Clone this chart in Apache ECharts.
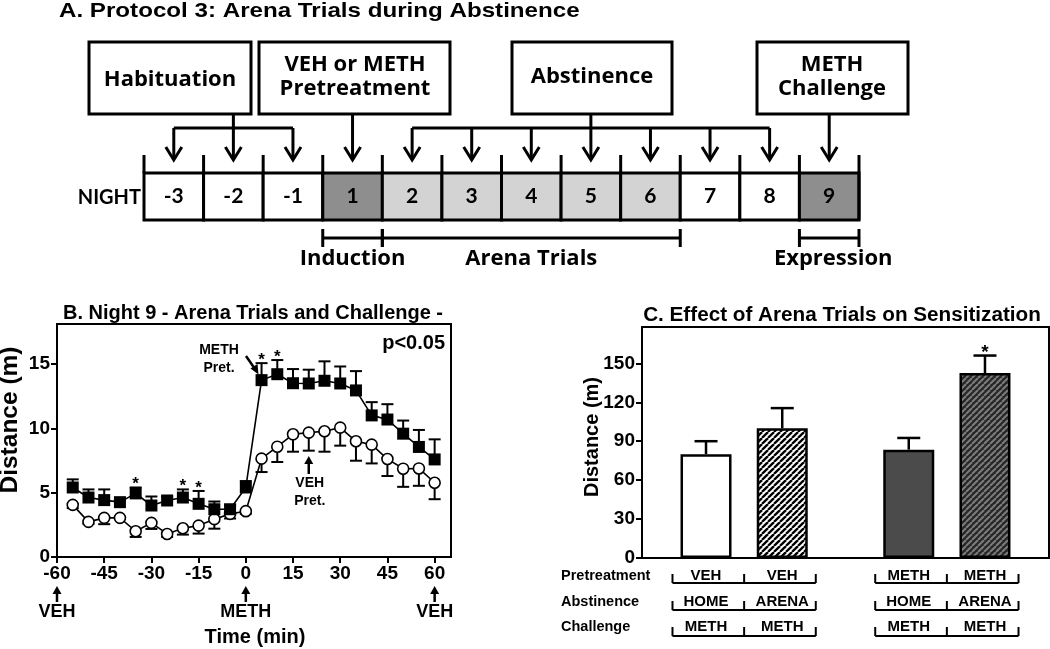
<!DOCTYPE html>
<html><head><meta charset="utf-8">
<script src="https://cdn.jsdelivr.net/npm/echarts@6/dist/echarts.min.js"></script>
<style>html,body{margin:0;padding:0;background:#fff}#c{width:1050px;height:649px}</style>
</head><body><div id="c"></div>
<script>
// ---------------- DATA ----------------
// Panel A: protocol schedule
const nights = ['-3','-2','-1','1','2','3','4','5','6','7','8','9'];
const nightPhase = ['hab','hab','hab','ind','arena','arena','arena','arena','arena','home','home','chal'];
// Panel B: Night 9 time course (min, m)
const timeMin = [-55,-50,-45,-40,-35,-30,-25,-20,-15,-10,-5,0,5,10,15,20,25,30,35,40,45,50,55,60];
const methMean = [5.4,4.62,4.42,4.26,4.94,4.0,4.39,4.62,4.13,3.71,3.71,5.4,13.74,14.2,13.5,13.48,13.69,13.48,12.94,11.0,10.68,9.58,8.55,7.58];
const methSem  = [0.63,0.63,0.83,0.15,0.46,0.7,0.3,0.63,1.0,0.6,0.3,0.5,1.32,1.1,1.1,1.07,1.51,1.32,1.5,1.03,1.19,1.02,1.32,1.56];
const vehMean  = [4.05,2.73,3.04,3.04,2.0,2.65,1.79,2.23,2.44,2.94,3.35,3.56,7.64,8.57,9.53,9.66,9.77,10.05,8.99,8.73,7.61,6.86,6.88,5.77];
const vehSem   = [0.25,0.15,0.49,0.1,0.44,0.47,0.23,0.49,0.62,0.74,0.36,0.2,1.04,1.19,1.35,1.4,1.59,1.4,1.51,1.46,1.32,1.41,1.35,1.28];
const sigTimesB = [-35,-20,-15,5,10];
const xTicksB = [-60,-45,-30,-15,0,15,30,45,60];
const yTicksB = [0,5,10,15];
// Panel C: total distance
const pretreatC   = ['VEH','VEH','METH','METH'];
const abstinenceC = ['HOME','ARENA','HOME','ARENA'];
const challengeC  = ['METH','METH','METH','METH'];
const distMeanC = [80,100,83.5,142.5];
const distSemC  = [10,15.5,9,13.5];
const sigC = [false,false,false,true];
const yTicksC = [0,30,60,90,120,150];

// ---------------- STYLE ----------------
const FB = '"Liberation Sans", Arial, sans-serif';
const FA = 'Lato, "Open Sans", sans-serif';
const FO = '"Open Sans", Lato, sans-serif';
const BLACK = '#000';

function hatch(bg, fg, p, w) {
  const c = document.createElement('canvas'); c.width = p; c.height = p;
  const g = c.getContext('2d'); g.fillStyle = bg; g.fillRect(0,0,p,p);
  g.strokeStyle = fg; g.lineWidth = w;
  for (let k=-1;k<=1;k++){ g.beginPath(); g.moveTo(k*p, p); g.lineTo(k*p+p, 0); g.stroke(); }
  return c;
}
const barFills = ['#ffffff', {image: hatch('#ffffff','#000000',6,2.3), repeat:'repeat'}, '#4b4b4b', {image: hatch('#262626','#7d7d7d',6,2), repeat:'repeat'}];
const phaseFill = {hab:'#ffffff', ind:'#8e8e8e', arena:'#d3d3d3', home:'#ffffff', chal:'#8e8e8e'};
const posC = i => 0.84 + i + (i >= 2 ? 0.66 : 0);

function T(x, y, s, size, o) {
  o = o || {};
  const st = {text:s, fontSize:size, fontWeight:o.weight||'bold', fontFamily:o.font||FB, fill:BLACK,
    align:o.align||'center', textAlign:o.align||'center', verticalAlign:'middle', textVerticalAlign:'middle'};
  return {type:'text', x:x, y:y, rotation:o.rot||0, scaleX:o.sx||1, style:st, z:10};
}
function L(x1,y1,x2,y2,w){ return {type:'line', shape:{x1,y1,x2,y2}, style:{stroke:BLACK, lineWidth:w||2}, z:10}; }
function P(pts){ return {type:'polygon', shape:{points:pts}, style:{fill:BLACK}, z:10}; }
function R(x,y,w,h,lw){ return {type:'rect', shape:{x,y,width:w,height:h}, style:{fill:'#fff', stroke:BLACK, lineWidth:lw||3}, z:10}; }

function errRender(dir, capW, lw) {
  return function(params, api) {
    const x = api.value(0), y = api.value(1), e = api.value(2);
    const p0 = api.coord([x, y]);
    const p1 = api.coord([x, y + dir*e]);
    return {type:'group', children:[
      {type:'line', shape:{x1:p0[0], y1:p0[1], x2:p1[0], y2:p1[1]}, style:{stroke:BLACK, lineWidth:lw}},
      {type:'line', shape:{x1:p1[0]-capW/2, y1:p1[1], x2:p1[0]+capW/2, y2:p1[1]}, style:{stroke:BLACK, lineWidth:lw}}
    ]};
  };
}
function starRender(size) {
  return function(params, api) {
    const p = api.coord([api.value(0), api.value(1)]);
    return {type:'text', x:p[0], y:p[1]-3, style:{text:'*', fontSize:size, fontWeight:'bold', fontFamily:FB, fill:BLACK,
      align:'center', textAlign:'center', verticalAlign:'middle', textVerticalAlign:'middle'}};
  };
}

const axisLineS = {show:true, onZero:false, lineStyle:{color:BLACK, width:2}};
const tickS = v => ({show:true, customValues:v, length:6, lineStyle:{color:BLACK, width:2}});
const labelS = (v, m) => ({customValues:v, color:BLACK, fontSize:19, fontWeight:'bold', fontFamily:FB, margin:m});

const chart = echarts.init(document.getElementById('c'), null, {renderer:'canvas', width:1050, height:649});
const option = {
  animation:false,
  backgroundColor:'#ffffff',
  grid:[
    {left:57, top:324, width:394, height:233, show:true, borderColor:BLACK, borderWidth:2, backgroundColor:'transparent'},
    {left:642, top:327, width:407, height:231, show:true, borderColor:BLACK, borderWidth:2, backgroundColor:'transparent'},
    {left:144, top:173, width:715, height:47}
  ],
  xAxis:[
    {gridIndex:0, type:'value', min:-60, max:65.2, axisLine:axisLineS, axisTick:tickS(xTicksB), axisLabel:labelS(xTicksB, 7), splitLine:{show:false}},
    {gridIndex:1, type:'value', min:0, max:5.34, axisLine:axisLineS, axisTick:{show:false}, axisLabel:{show:false}, splitLine:{show:false}},
    {gridIndex:2, type:'category', data:nights, show:false}
  ],
  yAxis:[
    {gridIndex:0, type:'value', min:0, max:18.1, axisLine:axisLineS, axisTick:tickS(yTicksB), axisLabel:labelS(yTicksB, 7), splitLine:{show:false}},
    {gridIndex:1, type:'value', min:0, max:178, axisLine:axisLineS, axisTick:tickS(yTicksC), axisLabel:labelS(yTicksC, 7), splitLine:{show:false}},
    {gridIndex:2, type:'value', min:0, max:1, show:false}
  ],
  series:[
    {type:'custom', xAxisIndex:0, yAxisIndex:0, z:2, renderItem:errRender(1, 12, 2),
      data: timeMin.map((t,i)=>[t, methMean[i], methSem[i]]), encode:{x:0, y:1}},
    {type:'custom', xAxisIndex:0, yAxisIndex:0, z:2, renderItem:errRender(-1, 12, 2),
      data: timeMin.map((t,i)=>[t, vehMean[i], vehSem[i]]), encode:{x:0, y:1}},
    {name:'METH Pret.', type:'line', xAxisIndex:0, yAxisIndex:0, z:4, symbol:'rect', symbolSize:12,
      itemStyle:{color:BLACK}, lineStyle:{color:BLACK, width:1.6},
      data: timeMin.map((t,i)=>[t, methMean[i]])},
    {name:'VEH Pret.', type:'line', xAxisIndex:0, yAxisIndex:0, z:3, symbol:'circle', symbolSize:11,
      itemStyle:{color:'#fff', borderColor:BLACK, borderWidth:1.6}, lineStyle:{color:BLACK, width:1.6},
      data: timeMin.map((t,i)=>[t, vehMean[i]])},
    {type:'custom', xAxisIndex:0, yAxisIndex:0, z:5, renderItem:starRender(17),
      data: sigTimesB.map(t=>{ const i = timeMin.indexOf(t); return [t, methMean[i]+methSem[i]]; }), encode:{x:0,y:1}},
    {type:'bar', xAxisIndex:1, yAxisIndex:1, barWidth:51, z:2,
      itemStyle:{borderColor:BLACK, borderWidth:2},
      data: distMeanC.map((v,i)=>({value:[posC(i), v], itemStyle:{color:barFills[i], borderColor:BLACK, borderWidth:2.5}}))},
    {type:'custom', xAxisIndex:1, yAxisIndex:1, z:1, renderItem:errRender(1, 23, 2.5),
      data: distMeanC.map((v,i)=>[posC(i), v, distSemC[i]]), encode:{x:0,y:1}},
    {type:'custom', xAxisIndex:1, yAxisIndex:1, z:5, renderItem:starRender(19),
      data: distMeanC.map((v,i)=>[posC(i), v+distSemC[i]]).filter((d,i)=>sigC[i]), encode:{x:0,y:1}},
    {type:'custom', xAxisIndex:2, yAxisIndex:2, z:2,
      data: nights.map((n,i)=>[i, 0]), encode:{x:0, y:1},
      renderItem:(params, api)=>{
        const i = params.dataIndex;
        const bl = api.coord([i, 0]); const tl = api.coord([i, 1]);
        const w = api.size([1, 0])[0];
        const x0 = bl[0]-w/2, y0 = tl[1], h = bl[1]-tl[1];
        const ch = [
          {type:'rect', shape:{x:x0, y:y0, width:w, height:h}, style:{fill:phaseFill[nightPhase[i]], stroke:BLACK, lineWidth:3}},
          {type:'line', shape:{x1:x0, y1:y0-18, x2:x0, y2:y0}, style:{stroke:BLACK, lineWidth:3}},
          {type:'text', x:bl[0], y:y0+h/2, style:{text:nights[i], fontSize:21, fontWeight:'bold', fontFamily:FA, fill:BLACK,
            align:'center', textAlign:'center', verticalAlign:'middle', textVerticalAlign:'middle'}}
        ];
        if (i === nights.length-1) ch.push({type:'line', shape:{x1:x0+w, y1:y0-18, x2:x0+w, y2:bl[1]}, style:{stroke:BLACK, lineWidth:3}});
        return {type:'group', children:ch};
      }}
  ]
};
chart.setOption(option);

// ---------------- ANNOTATIONS ----------------
const g = [];
// Panel A
const cx = i => chart.convertToPixel({gridIndex:2}, [i, 0])[0];
const cellW = cx(1) - cx(0);
const edgeL = i => cx(i) - cellW/2, edgeR = i => cx(i) + cellW/2;
g.push(T(59, 11, 'A. Protocol 3: Arena Trials during Abstinence', 21, {align:'left', sx:1.15}));
const boxTop = 42, boxBot = 114, barY = 128, tipY = 160;
function downArrow(x, y1, y2) {
  g.push(L(x, y1, x, y2-1, 3));
  g.push({type:'polyline', shape:{points:[[x-8, y2-13],[x, y2],[x+8, y2-13]]}, style:{stroke:BLACK, lineWidth:3, fill:null}, z:10});
}
// boxes
g.push(R(89, boxTop, 162, boxBot-boxTop));
g.push(T(170, 80, 'Habituation', 22, {font:FO}));
g.push(R(259, boxTop, 191, boxBot-boxTop));
g.push(T(355, 65, 'VEH or METH', 22, {font:FO}));
g.push(T(355, 89, 'Pretreatment', 22, {font:FO}));
g.push(R(512, boxTop, 160, boxBot-boxTop));
g.push(T(592, 77, 'Abstinence', 22, {font:FO}));
g.push(R(757, boxTop, 151, boxBot-boxTop));
g.push(T(832, 65, 'METH', 22, {font:FO}));
g.push(T(832, 89, 'Challenge', 22, {font:FO}));
// connectors
g.push(L(cx(1), boxBot, cx(1), barY, 3));
g.push(L(cx(0), barY, cx(2), barY, 3));
[0,1,2].forEach(i => downArrow(cx(i), barY, tipY));
downArrow(cx(3), boxBot, tipY);
g.push(L(cx(7), boxBot, cx(7), barY, 3));
g.push(L(cx(4), barY, cx(10), barY, 3));
[4,5,6,7,8,9,10].forEach(i => downArrow(cx(i), barY, tipY));
downArrow(cx(11), boxBot, tipY);
g.push(T(141, 198, 'NIGHT', 20, {font:FA, align:'right'}));
// brackets
const brY = 238;
function bracket(x1, x2) { g.push(L(x1, brY, x2, brY, 3)); g.push(L(x1, brY-9, x1, brY+9, 3)); g.push(L(x2, brY-9, x2, brY+9, 3)); }
bracket(edgeL(3), edgeR(3));
bracket(edgeL(4), edgeR(8));
bracket(edgeL(11), edgeR(11));
g.push(T(cx(3), 259, 'Induction', 22, {font:FO}));
g.push(T((edgeL(4)+edgeR(8))/2, 259, 'Arena Trials', 22, {font:FO}));
g.push(T(cx(11)+4, 259, 'Expression', 22, {font:FO}));

// Panel B
const bx = v => chart.convertToPixel({xAxisIndex:0}, v);
g.push(T(253, 313, 'B. Night 9 - Arena Trials and Challenge -', 20));
g.push(T(445, 343, 'p<0.05', 20, {align:'right'}));
g.push(T(10, 420, 'Distance (m)', 24.5, {rot:Math.PI/2}));
g.push(T(255, 637, 'Time (min)', 20));
function upArrow(x, yTip, yBot) {
  g.push(L(x, yTip+6, x, yBot, 2.5));
  g.push(P([[x, yTip],[x-4.5, yTip+8],[x+4.5, yTip+8]]));
}
[[-60,'VEH'],[0,'METH'],[60,'VEH']].forEach(([t, s]) => { upArrow(bx(t), 586, 602); g.push(T(bx(t), 612, s, 18)); });
g.push(T(219, 350, 'METH', 14));
g.push(T(219, 368, 'Pret.', 14));
g.push(L(246, 356, 255, 369, 2.5));
g.push(P([[258.5, 374.5],[250.5, 368.5],[257.5, 364]]));
upArrow(bx(20), 456, 474);
g.push(T(bx(20)+1, 483, 'VEH', 14));
g.push(T(bx(20)+1, 501, 'Pret.', 14));

// Panel C
const ccx = i => chart.convertToPixel({xAxisIndex:1}, posC(i));
g.push(T(842, 315, 'C. Effect of Arena Trials on Sensitization', 20.7));
g.push(T(592, 437, 'Distance (m)', 20, {rot:Math.PI/2}));
const rows = [[pretreatC, 'Pretreatment', 576, 583], [abstinenceC, 'Abstinence', 602, 610], [challengeC, 'Challenge', 627, 636]];
rows.forEach(([arr, name, ty, ly]) => {
  g.push(T(561, ty, name, 14.5, {align:'left'}));
  [[0,1],[2,3]].forEach(([a, b]) => {
    const ca = ccx(a), cb = ccx(b), mid = (ca+cb)/2, half = (cb-ca)/2;
    const l = ca - half*0.88, r = cb + half*0.88;
    g.push(L(l, ly, r, ly, 2));
    [l, mid, r].forEach(x => g.push(L(x, ly-9, x, ly, 2)));
    g.push(T(ca, ty, arr[a], 15));
    g.push(T(cb, ty, arr[b], 15));
  });
});
chart.setOption({graphic:{elements:g}});
</script></body></html>
